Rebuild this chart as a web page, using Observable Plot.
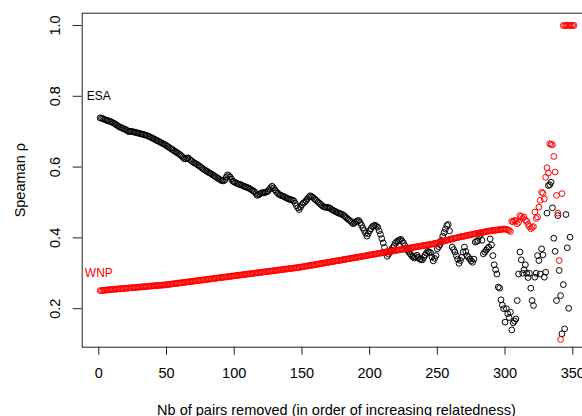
<!DOCTYPE html>
<html><head><meta charset="utf-8">
<script src="https://cdn.jsdelivr.net/npm/d3@7"></script>
<script src="https://cdn.jsdelivr.net/npm/@observablehq/plot@0.6"></script>
<style>
html,body{margin:0;padding:0;background:#fff;overflow:hidden;}
#chart{width:582px;height:416px;overflow:hidden;}
#chart svg{max-width:none !important;height:416px !important;}
</style></head><body><div id="chart"></div>
<script>
// ESA series: Spearman rho after removing i pairs (i = 1..348)
const esa = [
.739,.738,.737,.735,.733,.732,.731,.729,.728,.726,
.724,.722,.719,.717,.714,.712,.711,.709,.707,.706,
.703,.700,.701,.701,.700,.699,.698,.697,.696,.695,
.694,.693,.692,.691,.690,.688,.687,.685,.683,.681,
.679,.677,.675,.673,.671,.669,.667,.665,.663,.660,
.658,.655,.653,.650,.648,.645,.643,.640,.638,.635,
.632,.628,.624,.623,.625,.626,.622,.619,.616,.613,
.611,.609,.606,.604,.601,.598,.595,.592,.590,.588,
.585,.583,.581,.578,.576,.573,.571,.568,.566,.563,
.562,.561,.563,.571,.578,.576,.572,.566,.560,.558,
.556,.554,.552,.551,.550,.548,.546,.545,.543,.542,
.540,.538,.535,.533,.530,.525,.520,.522,.524,.527,
.528,.527,.529,.530,.532,.537,.542,.546,.541,.536,
.531,.527,.523,.521,.519,.518,.516,.514,.512,.510,
.509,.508,.506,.505,.498,.490,.485,.480,.487,.494,
.498,.501,.505,.510,.515,.519,.517,.515,.511,.508,
.505,.501,.498,.494,.491,.488,.487,.486,.486,.485,
.483,.480,.478,.476,.474,.472,.470,.469,.467,.466,
.463,.460,.456,.453,.450,.447,.443,.440,.443,.446,
.448,.449,.443,.436,.428,.421,.413,.405,.412,.420,
.426,.432,.434,.436,.433,.430,.420,.410,.398,.386,
.373,.360,.348,.354,.360,.366,.372,.378,.385,.389,
.392,.394,.396,.391,.386,.378,.370,.365,.360,.355,
.350,.346,.343,.347,.351,.345,.340,.339,.338,.345,
.352,.357,.362,.360,.358,.346,.335,.342,.350,.369,
.375,.381,.393,.405,.415,.425,.435,.438,.420,.397,
.374,.367,.360,.350,.340,.328,.336,.345,.360,.374,
.362,.350,.345,.340,.335,.331,.340,.388,.390,.392,
.405,.410,.393,.355,.360,.365,.370,.374,.397,.380,
.350,.324,.310,.298,.261,.258,.225,.210,.200,.162,
.200,.186,.175,.190,.140,.160,.165,.171,.223,.298,
.360,.338,.300,.310,.324,.300,.288,.300,.258,.223,
.209,.289,.300,.350,.336,.298,.369,.352,.289,.303,
.470,.548,.550,.557,.485,.399,.362,.223,.463,.308,
.237,.129,.268,.143,.466,.372,.201,.402
];
// WNP series (i = 1..351)
const wnp = [
.251,.251,.252,.252,.252,.253,.253,.254,.254,.254,
.255,.255,.255,.256,.256,.256,.257,.257,.257,.258,
.258,.258,.259,.259,.259,.260,.260,.260,.261,.261,
.261,.262,.262,.262,.263,.263,.263,.264,.264,.264,
.265,.265,.265,.266,.266,.266,.267,.267,.267,.268,
.268,.269,.269,.270,.270,.271,.271,.272,.272,.273,
.273,.274,.274,.275,.275,.276,.276,.277,.277,.278,
.278,.279,.279,.280,.280,.281,.281,.282,.282,.283,
.283,.284,.284,.285,.285,.286,.286,.287,.287,.288,
.288,.289,.289,.290,.290,.291,.291,.292,.292,.293,
.293,.294,.294,.295,.295,.296,.296,.297,.297,.298,
.298,.299,.299,.300,.300,.301,.301,.302,.302,.303,
.303,.304,.304,.305,.305,.306,.306,.307,.307,.308,
.308,.309,.309,.310,.310,.311,.311,.312,.312,.313,
.313,.314,.314,.315,.315,.316,.316,.317,.317,.318,
.319,.319,.320,.321,.321,.322,.323,.323,.324,.325,
.325,.326,.327,.327,.328,.329,.329,.330,.331,.331,
.332,.333,.333,.334,.335,.335,.336,.337,.337,.338,
.339,.339,.340,.341,.341,.342,.343,.343,.344,.345,
.345,.346,.347,.347,.348,.349,.349,.350,.351,.352,
.352,.353,.354,.354,.355,.356,.356,.357,.358,.358,
.359,.360,.360,.361,.362,.362,.363,.364,.364,.365,
.366,.366,.367,.368,.368,.369,.370,.370,.371,.372,
.372,.373,.374,.374,.375,.376,.376,.377,.378,.378,
.379,.380,.380,.381,.382,.382,.383,.384,.385,.386,
.387,.388,.389,.390,.391,.392,.393,.394,.395,.396,
.397,.398,.399,.400,.401,.402,.403,.404,.404,.405,
.406,.407,.408,.408,.409,.410,.411,.412,.412,.413,
.414,.415,.415,.416,.417,.418,.418,.419,.420,.420,
.421,.421,.422,.422,.423,.423,.424,.424,.425,.425,
.424,.423,.421,.418,
.447,.445,.449,.448,.440,.444,.463,.460,.455,.459,
.450,.447,.438,.432,.426,.430,.432,.473,.455,.459,
.487,.506,.529,.526,.510,.571,.598,.583,.666,.664,
.663,.630,.586,.520,.470,.336,.113,.525,
1,1,1,1,1,1,1,1,1
];
const xTicks = [0, 50, 100, 150, 200, 250, 300, 350];
const yTicks = [0.2, 0.4, 0.6, 0.8, 1.0];
const seriesNames = ["ESA", "WNP"];
const seriesColors = ["#000000", "#ff0000"];
const labelX = [0, 0];
const labelY = [0.8, 0.3];
const xTitle = "Nb of pairs removed (in order of increasing relatedness)";
const yTitle = "Speaman ρ";

const esaData = esa.map((v, i) => ({x: i + 1, y: v}));
const wnpData = wnp.map((v, i) => ({x: i + 1, y: v}));
const labels = seriesNames.map((name, k) => ({name, x: labelX[k], y: labelY[k], color: seriesColors[k]}));

const FONT = "'Liberation Sans', Arial, Helvetica, sans-serif";
const chart = Plot.plot({
  width: 595,
  height: 416,
  marginLeft: 81.7,
  marginRight: 0,
  marginTop: 12.7,
  marginBottom: 69.3,
  style: {fontFamily: FONT, fontSize: "14.5px", color: "#000", background: "#fff", maxWidth: "none"},
  x: {domain: [-12.26, 366.8]},
  y: {domain: [0.0912, 1.0347]},
  marks: [
    Plot.frame({stroke: "#222", strokeWidth: 1}),
    Plot.dot(esaData, {x: "x", y: "y", r: 2.9, stroke: seriesColors[0], strokeWidth: 1, fill: "none"}),
    Plot.dot(wnpData, {x: "x", y: "y", r: 2.9, stroke: seriesColors[1], strokeWidth: 1, fill: "none"}),
    Plot.text(labels, {x: "x", y: "y", text: "name", fill: "color", fontSize: 12, textAnchor: "middle", lineAnchor: "middle"}),
    Plot.axisX({ticks: xTicks, tickSize: 8, tickPadding: 13, label: null, stroke: "#222"}),
    Plot.axisY({ticks: yTicks, tickSize: 9, tickRotate: -90, tickPadding: 12.7, tickFormat: d3.format(".1f"), label: null, stroke: "#222"}),
    Plot.text([xTitle], {frameAnchor: "bottom", dy: 68, dx: -2.4, lineAnchor: "bottom", textAnchor: "middle", fill: "#000"}),
    Plot.text([yTitle], {frameAnchor: "left", dx: -57, rotate: -90, lineAnchor: "bottom", textAnchor: "middle", fill: "#000"})
  ]
});
document.getElementById("chart").appendChild(chart);
</script>
</body></html>
